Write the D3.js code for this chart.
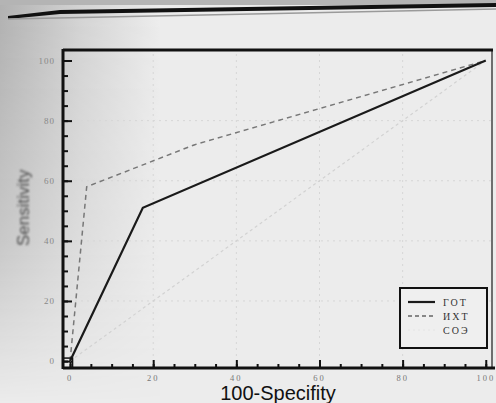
<!DOCTYPE html>
<html><head><meta charset="utf-8">
<script src="https://cdn.jsdelivr.net/npm/d3@7"></script>
<style>body{margin:0;background:#ececec;}svg{display:block;}</style>
</head><body>
<script>
// ---- data ----
const seriesNames = ["ГОТ", "ИХТ", "СОЭ"];
const gotX = [0, 17.5, 100];
const gotY = [0, 51, 100];
const ihtX = [0, 4, 30, 100];
const ihtY = [0, 58, 72, 100];
const soeX = [0, 100];
const soeY = [0, 100];
const majorTicks = [0, 20, 40, 60, 80, 100];
const minorTicks = d3.range(0, 101, 5);
const xTitle = "100-Specifity";
const yTitle = "Sensitivity";

const W = 496, H = 403;
const svg = d3.select("body").append("svg").attr("width", W).attr("height", H);

// photo background
const defs = svg.append("defs");
const g1 = defs.append("linearGradient").attr("id","lshade").attr("x1","0").attr("x2","1").attr("y1","0").attr("y2","0");
g1.append("stop").attr("offset","0").attr("stop-color","#b0b0b0");
g1.append("stop").attr("offset","0.5").attr("stop-color","#d2d2d2");
g1.append("stop").attr("offset","1").attr("stop-color","#ececec");
const g2 = defs.append("linearGradient").attr("id","vfade").attr("x1","0").attr("x2","0").attr("y1","0").attr("y2","1");
g2.append("stop").attr("offset","0").attr("stop-color","#fff").attr("stop-opacity","1");
g2.append("stop").attr("offset","0.6").attr("stop-color","#fff").attr("stop-opacity","0.6");
g2.append("stop").attr("offset","1").attr("stop-color","#fff").attr("stop-opacity","0");
const m = defs.append("mask").attr("id","lm");
m.append("rect").attr("width",160).attr("height",H).attr("fill","url(#vfade)");
const bl = defs.append("filter").attr("id","blr").attr("x","-20%").attr("y","-20%").attr("width","140%").attr("height","140%");
bl.append("feGaussianBlur").attr("stdDeviation",1.2);
svg.append("rect").attr("width",W).attr("height",H).attr("fill","#ececec");
svg.append("rect").attr("width",160).attr("height",H).attr("fill","url(#lshade)").attr("mask","url(#lm)");
svg.append("rect").attr("x",0).attr("y",0).attr("width",W).attr("height",5).attr("fill","#b4b4b4");
svg.append("path").attr("d","M8,16 L60,10 L496,3 L496,7 L60,14 L8,19 Z").attr("fill","#111");
svg.append("path").attr("d","M8,19 L496,9").attr("stroke","#9a9a9a").attr("stroke-width",1.5);

// scales
const x = d3.scaleLinear().domain([-1.7, 101.5]).range([63, 492]);
const y = d3.scaleLinear().domain([-2.3, 103.5]).range([368, 50]);

// faint grid
const grid = svg.append("g").attr("stroke","#d6d6d6").attr("stroke-width",1).attr("stroke-dasharray","2,4");
majorTicks.slice(1,5).forEach(v=>{
  grid.append("line").attr("x1",x(v)).attr("x2",x(v)).attr("y1",y(-2.3)).attr("y2",y(103.5));
  grid.append("line").attr("x1",x(-1.7)).attr("x2",x(101.5)).attr("y1",y(v)).attr("y2",y(v));
});

// frame
svg.append("line").attr("x1",x(101.5)).attr("x2",x(101.5)).attr("y1",y(103.5)).attr("y2",y(-2.3)).attr("stroke","#444").attr("stroke-width",1.5);
svg.append("line").attr("x1",x(-1.7)).attr("x2",x(101.5)+1).attr("y1",y(103.5)).attr("y2",y(103.5)).attr("stroke","#111").attr("stroke-width",3);

// axes with inward ticks
const xAxisMinor = d3.axisTop(x).tickValues(minorTicks).tickSize(4).tickFormat("");
const xAxisMajor = d3.axisTop(x).tickValues(majorTicks).tickSize(8).tickFormat("");
const yAxisMinor = d3.axisRight(y).tickValues(minorTicks).tickSize(5).tickFormat("");
const yAxisMajor = d3.axisRight(y).tickValues(majorTicks).tickSize(9).tickFormat("");
[xAxisMinor, xAxisMajor].forEach(a=>{
  const g = svg.append("g").attr("transform",`translate(0,${y(-2.3)})`).call(a);
  g.select(".domain").remove();
  g.selectAll("line").attr("stroke","#111").attr("stroke-width",2);
});
[yAxisMinor, yAxisMajor].forEach(a=>{
  const g = svg.append("g").attr("transform",`translate(${x(-1.7)},0)`).call(a);
  g.select(".domain").remove();
  g.selectAll("line").attr("stroke","#111").attr("stroke-width",2);
});
svg.append("line").attr("x1",x(-1.7)).attr("x2",x(101.5)+3).attr("y1",y(-2.3)).attr("y2",y(-2.3)).attr("stroke","#111").attr("stroke-width",3);
svg.append("line").attr("x1",x(-1.7)).attr("x2",x(-1.7)).attr("y1",y(103.5)-1).attr("y2",y(-2.3)+1).attr("stroke","#111").attr("stroke-width",3);

// tick labels
svg.append("g").selectAll("text").data(majorTicks).join("text")
  .attr("x",d=>x(d)).attr("y",y(-2.3)+13).attr("text-anchor","middle")
  .attr("font-family","Liberation Serif, serif").attr("font-size",8.5).attr("letter-spacing",2)
  .attr("fill","#777").text(d=>d);
svg.append("g").selectAll("text").data(majorTicks).join("text")
  .attr("x",x(-1.7)-8).attr("y",d=>y(d)+3).attr("text-anchor","end")
  .attr("font-family","Liberation Serif, serif").attr("font-size",9).attr("letter-spacing",1)
  .attr("fill","#888").text(d=>d);

// titles
svg.append("text").attr("x",278).attr("y",400).attr("text-anchor","middle")
  .attr("font-family","Liberation Sans, Arial, sans-serif").attr("font-size",20).attr("fill","#111").text(xTitle);
svg.append("text").attr("transform",`translate(29,${y(51)}) rotate(-90)`).attr("text-anchor","middle")
  .attr("font-family","Liberation Sans, Arial, sans-serif").attr("font-size",17).attr("fill","#4a4a4a")
  .attr("filter","url(#blr)").text(yTitle);

// series
const line = d3.line().x(d=>x(d[0])).y(d=>y(d[1]));
const toPts = (xs, ys) => xs.map((v,i)=>[v, ys[i]]);
svg.append("path").datum(toPts(soeX, soeY)).attr("d",line).attr("fill","none")
  .attr("stroke","#d2d2d2").attr("stroke-width",1.2).attr("stroke-dasharray","3,3");
svg.append("path").datum(toPts(ihtX, ihtY)).attr("d",line).attr("fill","none")
  .attr("stroke","#777").attr("stroke-width",1.5).attr("stroke-dasharray","5,4");
svg.append("path").datum(toPts(gotX, gotY)).attr("d",line).attr("fill","none")
  .attr("stroke","#1a1a1a").attr("stroke-width",2.2);

// origin marker
svg.append("rect").attr("x",x(-1.7)).attr("y",y(1)).attr("width",x(0.6)-x(-1.7)).attr("height",y(-2.3)-y(1))
  .attr("fill","none").attr("stroke","#111").attr("stroke-width",1.5);

// legend
const lg = svg.append("g").attr("transform","translate(400,288)");
lg.append("rect").attr("width",87).attr("height",60).attr("fill","#efefef").attr("stroke","#111").attr("stroke-width",2);
const styles = [{c:"#1a1a1a", w:2.2, d:null},{c:"#666", w:1.5, d:"4,3"},{c:"#e4e4e4", w:1, d:"2,3"}];
seriesNames.forEach((n,i)=>{
  const yy = 14 + i*14;
  lg.append("line").attr("x1",8).attr("x2",35).attr("y1",yy).attr("y2",yy)
    .attr("stroke",styles[i].c).attr("stroke-width",styles[i].w).attr("stroke-dasharray",styles[i].d);
  lg.append("text").attr("x",43).attr("y",yy+4).attr("font-family","Liberation Serif, serif")
    .attr("font-size",10).attr("letter-spacing",2).attr("fill","#333").text(n);
});
</script>
</body></html>
